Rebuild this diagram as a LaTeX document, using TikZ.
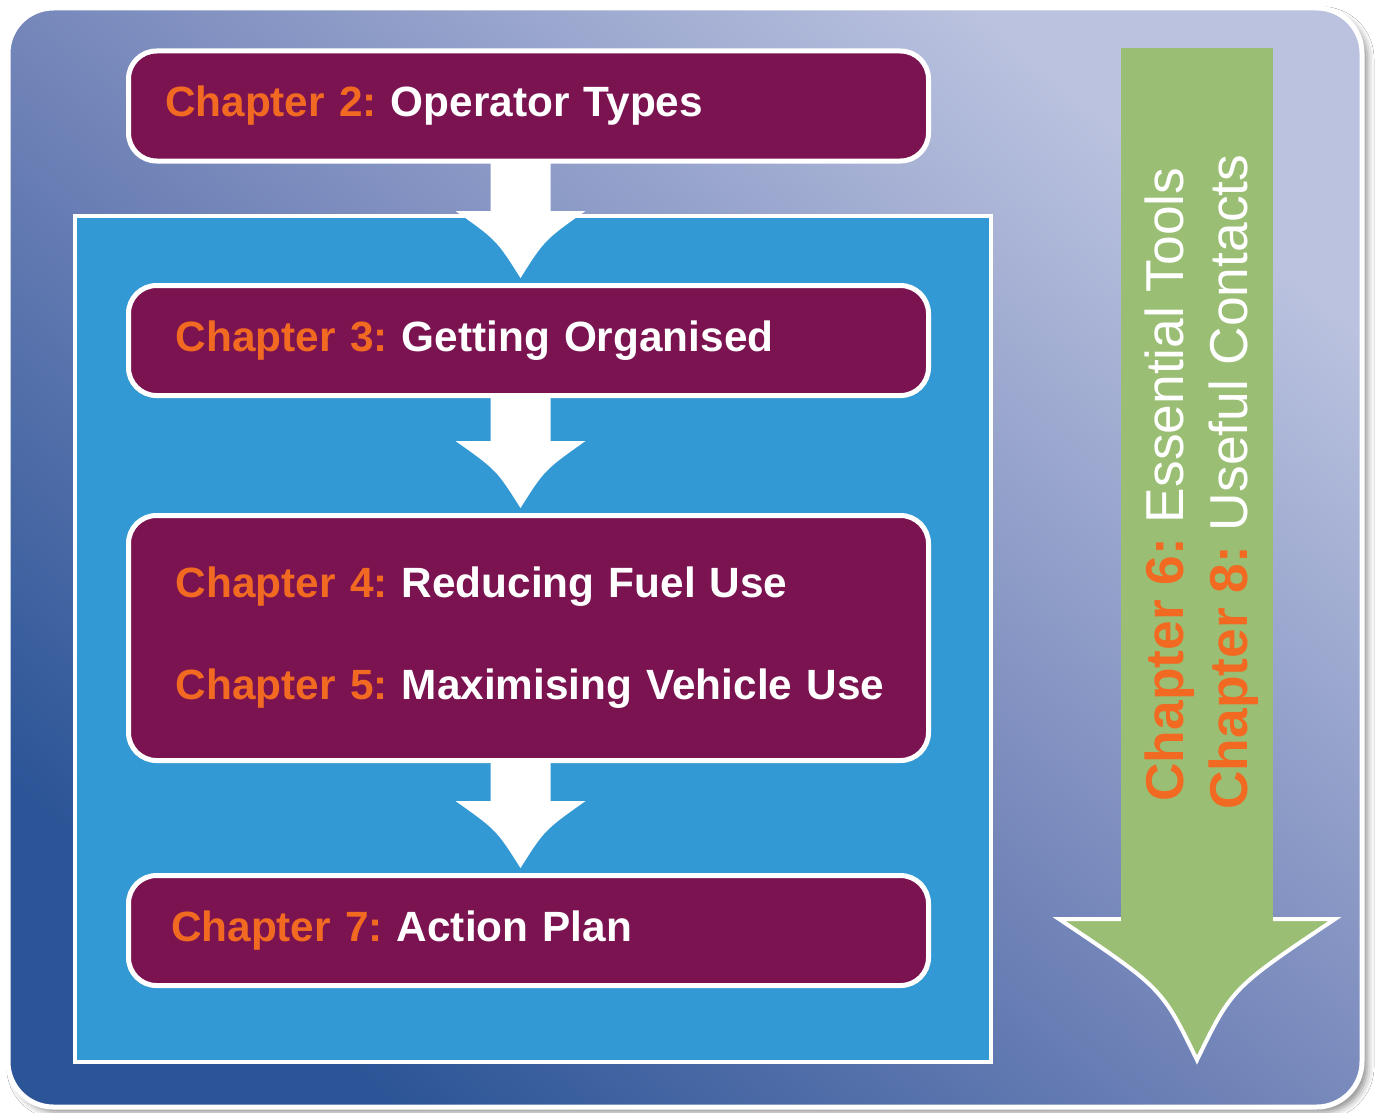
\documentclass[tikz,border=0pt]{standalone}
\usepackage{fontspec}
\setmainfont{Liberation Sans}
\usepackage{xcolor}
\usepackage{tikz}
\usetikzlibrary{calc, positioning, shadows.blur}
\definecolor{panellight}{HTML}{BAC2DF}
\definecolor{panelmid}{HTML}{7788BB}
\definecolor{paneldark}{HTML}{2C5597}
\definecolor{boxblue}{HTML}{3399D4}
\definecolor{chpurple}{HTML}{7A1350}
\definecolor{chorange}{HTML}{F26A21}
\definecolor{arrowgreen}{HTML}{9BBE75}
\tikzset{
    chapternode/.style = {draw=white, fill=chpurple, rectangle, rounded corners=21pt, line width=3.75pt,
      minimum width=600pt, minimum height=82.5pt, inner xsep=12pt, text width=576pt, align=left,
      text=white, node distance=0em, font=\fontsize{31.75}{38.1}\selectfont\bfseries\frenchspacing},
    textindent/.style = {execute at begin node={\leftskip=#1\relax}},
    textnode/.style  = {draw=none, fill=none, rectangle, inner sep=0em, text=white,
      font=\fontsize{40}{48}\selectfont\frenchspacing},
    blockarrow/.style = {fill=white, draw=none},
    panelbox/.style = {draw=white, line width=3.75pt, rounded corners=34pt,
      top color=panellight, bottom color=paneldark, middle color=panelmid, shading angle=-40,
      blur shadow={shadow xshift=4pt, shadow yshift=-4pt, shadow blur radius=5pt, shadow opacity=45}}
}
% white block arrow from the bottom of #1 to just above #2
\newcommand{\blockarrow}[2]{%
  \fill [blockarrow]
    ($(#1.south)+(-38,-2)$) -- ($(#2.north)+(-38,-72)$) -- ($(#2.north)+(-73,-72)$)
    .. controls ($(#2.north)+(-32,-43)$) .. ($(#2.north)+(-8,-5)$)
    .. controls ($(#2.north)+(16,-43)$) .. ($(#2.north)+(57,-72)$)
    -- ($(#2.north)+(22,-72)$) -- ($(#1.south)+(22,-2)$) -- cycle;}

\begin{document}
\begin{tikzpicture}[x=0.75pt, y=-0.75pt, node distance=0em]
    \useasboundingbox (0,0) rectangle (1379,1113);
    \fill [white] (0,0) rectangle (1379,1113);
    \path [panelbox] (8,8) rectangle (1362,1107);
    \draw [fill=boxblue, draw=white, line width=3pt] (74.5,215.5) rectangle (991,1061.5);

    % green arrow down the right side
    \filldraw [fill=arrowgreen, draw=white, line width=3pt] (1059,919) -- (1335,919)
      .. controls (1232,988) .. (1197,1060) .. controls (1162,988) .. cycle;
    \fill [arrowgreen] (1121,48) rectangle (1273,922);
    \node [name=CHSIX, textnode, rotate=90, anchor=base west] at (1183,802)
      {\textcolor{chorange}{\bfseries Chapter 6:} Essential Tools};
    \node [name=CHEIGHT, textnode, rotate=90, anchor=base west] at (1247,810)
      {\textcolor{chorange}{\bfseries Chapter 8:} Useful Contacts};

    \node [name=CHTWO, chapternode, textindent=15.4pt] at (528.5,106)
      {\textcolor{chorange}{Chapter 2:} Operator Types};
    \node [name=CHTHREE, chapternode, below of = CHTWO, yshift=-175.9pt, textindent=23.6pt]
      {\textcolor{chorange}{Chapter 3:} Getting Organised};
    \node [name=CHFOURFIVE, chapternode, below of = CHTHREE, yshift=-223.1pt, minimum height=183.75pt,
      textindent=23.6pt]
      {\textcolor{chorange}{Chapter 4:} Reducing Fuel Use\\[38.4pt]\textcolor{chorange}{Chapter 5:} Maximising Vehicle Use};
    \node [name=CHSEVEN, chapternode, below of = CHFOURFIVE, yshift=-219.4pt, textindent=19.9pt]
      {\textcolor{chorange}{Chapter 7:} Action Plan};

    \blockarrow{CHTWO}{CHTHREE}
    \blockarrow{CHTHREE}{CHFOURFIVE}
    \blockarrow{CHFOURFIVE}{CHSEVEN}
\end{tikzpicture}
\end{document}
